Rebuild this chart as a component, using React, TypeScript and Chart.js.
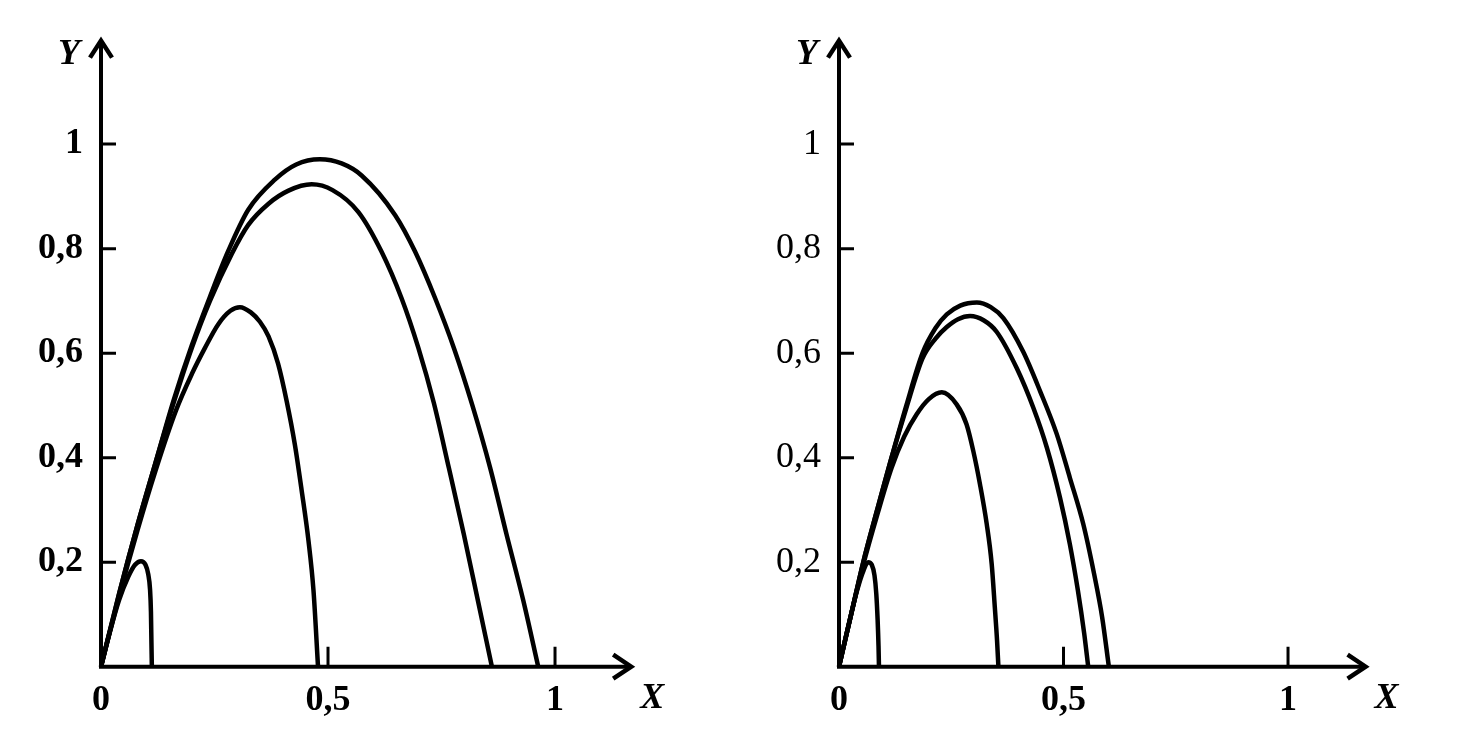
import React, { useEffect, useRef } from "react";
import { Chart, registerables } from "chart.js";

Chart.register(...registerables);

// Tick values and labels
const X_TICKS = [0, 0.5, 1];
const X_TICK_LABELS = ["0", "0,5", "1"];
const Y_TICKS = [0.2, 0.4, 0.6, 0.8, 1];
const Y_TICK_LABELS = ["0,2", "0,4", "0,6", "0,8", "1"];

// Left panel trajectories [x, y]
const leftCurve1 = [[0,0],[0.02,0.068],[0.04,0.128],[0.06,0.172],[0.075,0.195],[0.088,0.202],[0.098,0.195],[0.104,0.177],[0.108,0.148],[0.11,0.105],[0.111,0.05],[0.112,0]];
const leftCurve2 = [[0,0],[0.04,0.135],[0.08,0.26],[0.12,0.375],[0.165,0.49],[0.2,0.56],[0.229,0.61],[0.258,0.655],[0.285,0.681],[0.306,0.688],[0.33,0.678],[0.35,0.66],[0.369,0.632],[0.39,0.58],[0.409,0.508],[0.427,0.425],[0.442,0.337],[0.457,0.241],[0.468,0.146],[0.478,0]];
const leftCurve3 = [[0,0],[0.04,0.14],[0.08,0.27],[0.12,0.39],[0.16,0.505],[0.2,0.61],[0.24,0.7],[0.288,0.79],[0.324,0.845],[0.369,0.886],[0.413,0.911],[0.464,0.923],[0.51,0.912],[0.567,0.87],[0.618,0.794],[0.662,0.705],[0.699,0.61],[0.733,0.505],[0.766,0.381],[0.799,0.254],[0.83,0.127],[0.861,0]];
const leftCurve4 = [[0,0],[0.04,0.14],[0.08,0.27],[0.12,0.39],[0.16,0.51],[0.2,0.615],[0.24,0.708],[0.28,0.795],[0.324,0.874],[0.383,0.932],[0.43,0.961],[0.482,0.971],[0.53,0.963],[0.574,0.94],[0.648,0.864],[0.692,0.794],[0.736,0.705],[0.778,0.608],[0.818,0.5],[0.857,0.381],[0.893,0.254],[0.93,0.127],[0.963,0]];

// Right panel trajectories [x, y]
const rightCurve1 = [[0,0],[0.02,0.075],[0.04,0.145],[0.055,0.185],[0.065,0.2],[0.073,0.195],[0.079,0.175],[0.083,0.14],[0.086,0.09],[0.088,0.04],[0.089,0]];
const rightCurve2 = [[0,0],[0.027,0.1],[0.054,0.195],[0.085,0.29],[0.117,0.38],[0.145,0.44],[0.173,0.483],[0.2,0.512],[0.229,0.525],[0.262,0.502],[0.284,0.464],[0.299,0.413],[0.314,0.349],[0.329,0.273],[0.34,0.197],[0.347,0.114],[0.352,0.05],[0.355,0]];
const rightCurve3 = [[0,0],[0.027,0.1],[0.054,0.2],[0.085,0.3],[0.117,0.4],[0.15,0.495],[0.186,0.59],[0.215,0.628],[0.24,0.65],[0.265,0.665],[0.292,0.671],[0.322,0.663],[0.351,0.641],[0.396,0.571],[0.433,0.495],[0.463,0.419],[0.492,0.324],[0.514,0.235],[0.532,0.146],[0.546,0.064],[0.555,0]];
const rightCurve4 = [[0,0],[0.027,0.1],[0.054,0.2],[0.085,0.3],[0.117,0.4],[0.15,0.5],[0.186,0.6],[0.215,0.648],[0.24,0.674],[0.27,0.691],[0.307,0.697],[0.338,0.688],[0.366,0.667],[0.41,0.603],[0.448,0.527],[0.485,0.445],[0.514,0.362],[0.544,0.273],[0.568,0.178],[0.586,0.095],[0.601,0]];

const FONT = "'Liberation Serif', 'Times New Roman', serif";
const CANVAS_W = 742;
const CANVAS_H = 736;

const axesPlugin = {
  id: "axesArrows",
  afterDraw(chart: any) {
    const ctx = chart.ctx;
    const { right, top } = chart.chartArea;
    const xs = chart.scales.x;
    const ys = chart.scales.y;
    const ox = xs.getPixelForValue(0);
    const oy = ys.getPixelForValue(0);
    ctx.save();
    ctx.strokeStyle = "#000";
    ctx.fillStyle = "#000";
    ctx.lineCap = "butt";
    ctx.lineWidth = 4;
    ctx.beginPath();
    ctx.moveTo(ox, oy + 2);
    ctx.lineTo(ox, top + 3);
    ctx.moveTo(ox - 2, oy);
    ctx.lineTo(right - 3, oy);
    ctx.stroke();
    // arrows
    ctx.lineWidth = 4.5;
    ctx.lineJoin = "miter";
    ctx.beginPath();
    ctx.moveTo(ox - 11, top + 18);
    ctx.lineTo(ox, top + 1);
    ctx.lineTo(ox + 11, top + 18);
    ctx.stroke();
    ctx.beginPath();
    ctx.moveTo(right - 19, oy - 12);
    ctx.lineTo(right - 1, oy);
    ctx.lineTo(right - 19, oy + 12);
    ctx.stroke();
    // inward ticks
    ctx.lineWidth = 3;
    ctx.beginPath();
    Y_TICKS.forEach((v) => {
      const py = ys.getPixelForValue(v);
      ctx.moveTo(ox, py);
      ctx.lineTo(ox + 15, py);
    });
    X_TICKS.filter((v) => v > 0).forEach((v) => {
      const px = xs.getPixelForValue(v);
      ctx.moveTo(px, oy);
      ctx.lineTo(px, oy - 20);
    });
    ctx.stroke();
    // axis letters
    ctx.font = `italic bold 36px ${FONT}`;
    ctx.textAlign = "center";
    ctx.textBaseline = "middle";
    ctx.fillText("Y", ox - 32, top + 15);
    ctx.fillText("X", right + 20, oy + 32);
    ctx.restore();
  },
};

type Cfg = {
  curves: number[][][];
  xMax: number;
  axisLeft: number;
  axisRight: number;
  yWeight: string;
  xWeight: string;
};

function buildChart(canvas: HTMLCanvasElement, cfg: Cfg) {
  const top = 36.7;
  const bottom = 666.7;
  return new Chart(canvas, {
    type: "line",
    data: {
      datasets: cfg.curves.map((c) => ({
        data: c.map(([x, y]) => ({ x, y })),
        borderColor: "#000",
        borderWidth: 4.5,
        pointRadius: 0,
        cubicInterpolationMode: "monotone",
        fill: false,
        clip: false as any,
      })),
    },
    options: {
      animation: false,
      responsive: false,
      events: [],
      layout: { padding: { top, right: CANVAS_W - cfg.axisRight, left: 0, bottom: 0 } },
      plugins: { legend: { display: false }, tooltip: { enabled: false } },
      scales: {
        x: {
          type: "linear",
          min: 0,
          max: cfg.xMax,
          grid: { display: false, drawTicks: false },
          border: { display: false },
          afterBuildTicks: (s: any) => {
            s.ticks = X_TICKS.map((v) => ({ value: v }));
          },
          afterFit: (s: any) => {
            s.height = CANVAS_H - bottom;
          },
          ticks: {
            color: "#000",
            padding: 12,
            autoSkip: false,
            maxRotation: 0,
            font: { family: FONT, size: 36, weight: cfg.xWeight as any },
            callback: (v: any) => {
              const i = X_TICKS.indexOf(Number(v));
              return i >= 0 ? X_TICK_LABELS[i] : "";
            },
          },
        },
        y: {
          type: "linear",
          min: 0,
          max: 1.2,
          grid: { display: false, drawTicks: false },
          border: { display: false },
          afterBuildTicks: (s: any) => {
            s.ticks = Y_TICKS.map((v) => ({ value: v }));
          },
          afterFit: (s: any) => {
            s.width = cfg.axisLeft;
          },
          ticks: {
            color: "#000",
            padding: 18,
            autoSkip: false,
            font: { family: FONT, size: 36, weight: cfg.yWeight as any },
            callback: (v: any) => {
              const i = Y_TICKS.indexOf(Number(v));
              return i >= 0 ? Y_TICK_LABELS[i] : "";
            },
          },
        },
      },
    } as any,
    plugins: [axesPlugin],
  });
}

export default function App() {
  const leftRef = useRef<HTMLCanvasElement>(null);
  const rightRef = useRef<HTMLCanvasElement>(null);

  useEffect(() => {
    const a = buildChart(leftRef.current!, {
      curves: [leftCurve1, leftCurve2, leftCurve3, leftCurve4],
      xMax: 1.17,
      axisLeft: 101,
      axisRight: 632.2,
      yWeight: "bold",
      xWeight: "bold",
    });
    const b = buildChart(rightRef.current!, {
      curves: [rightCurve1, rightCurve2, rightCurve3, rightCurve4],
      xMax: 1.175,
      axisLeft: 97,
      axisRight: 624.6,
      yWeight: "normal",
      xWeight: "bold",
    });
    return () => {
      a.destroy();
      b.destroy();
    };
  }, []);

  return (
    <div style={{ position: "absolute", left: 0, top: 0, width: 1484, height: 736, background: "#fff" }}>
      <canvas ref={leftRef} width={CANVAS_W} height={CANVAS_H} style={{ position: "absolute", left: 0, top: 0, width: CANVAS_W, height: CANVAS_H }} />
      <canvas ref={rightRef} width={CANVAS_W} height={CANVAS_H} style={{ position: "absolute", left: CANVAS_W, top: 0, width: CANVAS_W, height: CANVAS_H }} />
    </div>
  );
}
